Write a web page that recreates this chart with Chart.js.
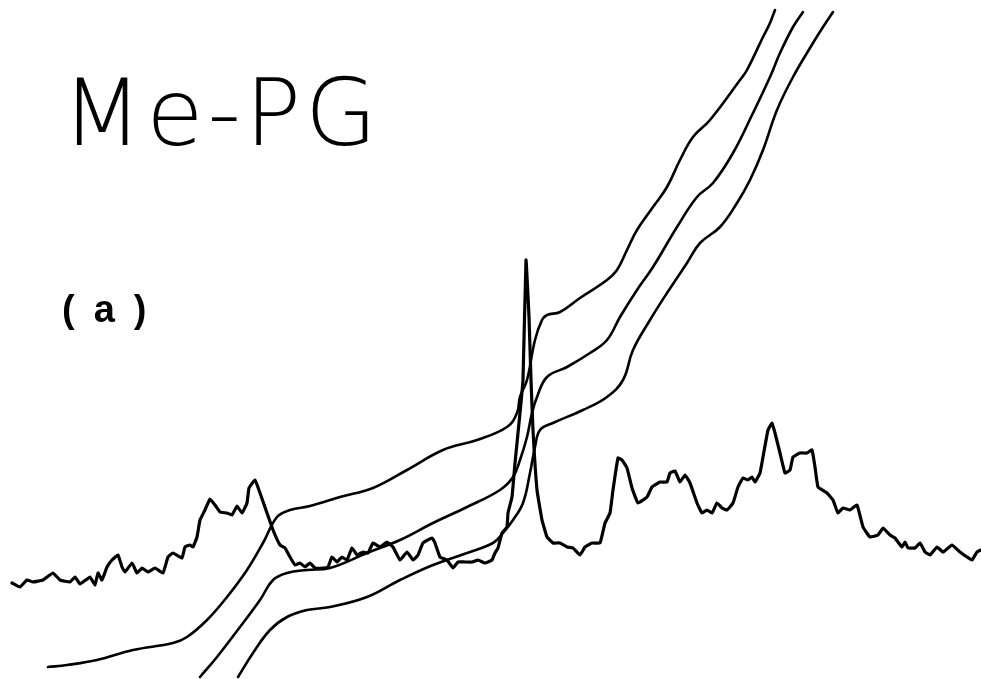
<!DOCTYPE html>
<html>
<head>
<meta charset="utf-8">
<script src="https://cdn.jsdelivr.net/npm/chart.js@4.4.1/dist/chart.umd.min.js"></script>
<style>
  html, body { margin: 0; padding: 0; background: #fff; }
  #wrap { width: 981px; height: 679px; }
</style>
</head>
<body>
<div id="wrap"><canvas id="c" width="981" height="679"></canvas></div>
<script>
// Recorded trace: position along the sweep (0-981) and pen height (0-679, up = larger)
const spectrumX = [12,20,27,33,43,53,60,70,75,80,90,95,98,102,107,112,118,122,125,132,137,142,148,155,163,168,173,182,185,190,193,197,200,205,210,215,220,227,232,237,242,247,249,255,260,267,273,280,285,290,295,300,305,310,315,323,328,
  332,337,342,347,352,357,363,368,373,380,387,393,400,407,413,418,423,432,435,440,447,453,458,465,472,478,485,492,495,498,502,507,508,512,515,520,523,526,529,531,533,537,542,547,553,560,567,573,580,585,592,600,605,610,
  613,618,622,627,632,638,647,652,660,667,670,675,680,685,690,697,702,707,712,717,722,727,733,738,743,748,752,755,760,763,768,772,775,780,785,790,793,800,807,812,815,818,827,833,838,843,850,857,863,870,878,883,890,895,902,905,908,915,920,925,930,937,943,952,960,967,972,977,981];
const spectrumY = [96,92,99,97,99,106,99,97,102,95,102,94,106,99,112,119,124,112,107,116,106,111,107,111,106,122,126,121,132,134,132,142,159,169,180,174,167,166,164,173,166,176,191,199,186,166,149,134,131,122,114,116,112,116,111,111,112,
  122,117,122,119,131,124,127,126,136,132,137,132,119,127,119,124,136,141,136,122,119,111,117,117,117,119,116,119,126,131,146,152,166,182,216,266,299,419,362,299,249,189,159,142,136,136,132,131,124,132,136,136,156,166,
  189,221,219,211,191,176,182,192,197,197,206,208,197,204,196,176,166,169,166,176,171,169,176,192,201,199,202,197,206,222,249,256,246,226,206,209,222,226,226,229,212,192,186,179,166,171,169,174,152,142,144,151,144,141,132,137,131,131,136,127,124,132,127,134,127,122,119,127,129];

// Three stepped integral traces
const integralAX = [48,67,97,133,173,187,207,227,247,263,277,290,310,340,373,407,443,477,507,517,520,527,535,542,547,560,580,607,617,627,637,653,667,680,693,710,740,747,763,770,775];
const integralAY = [12,14,19,29,36,42,59,82,109,136,162,169,173,182,191,209,229,239,252,266,282,299,339,359,364,367,381,399,409,429,449,472,492,519,542,559,599,609,642,656,669];

const integralBX = [200,217,240,260,273,287,307,330,367,400,433,467,500,513,520,527,532,537,547,567,590,607,620,637,653,677,697,713,733,753,770,780,793,803];
const integralBY = [2,22,52,79,99,106,109,111,126,139,156,172,189,202,219,242,266,282,302,312,326,339,362,389,412,452,482,496,526,566,602,626,652,667];

const integralCX = [238,253,270,287,307,330,367,400,433,467,493,503,513,523,530,535,540,553,583,607,623,633,650,667,687,700,720,737,750,763,777,793,813,823,833];
const integralCY = [2,26,49,62,69,72,82,99,114,126,136,146,159,176,206,232,249,256,269,282,299,329,359,386,416,436,452,476,499,529,569,602,636,652,667];

const toPoints = (xs, ys) => xs.map((x, i) => ({ x, y: ys[i] }));

const titleText = 'Me-PG';
const panelText = '(a)';

const labelsPlugin = {
  id: 'panelLabels',
  afterDraw(chart) {
    const ctx = chart.ctx;
    ctx.save();
    ctx.fillStyle = '#000';
    ctx.textBaseline = 'alphabetic';
    ctx.font = '200 93px "DejaVu Sans", sans-serif';
    ctx.letterSpacing = '4px';
    ctx.fillText(titleText, 62, 145);
    ctx.font = '700 38px "Liberation Sans", Arial, sans-serif';
    ctx.letterSpacing = '19px';
    ctx.fillText(panelText, 62, 322);
    ctx.restore();
  }
};

const lineStyle = (w, t) => ({
  borderColor: '#000',
  borderWidth: w,
  pointRadius: 0,
  fill: false,
  tension: t,
  borderJoinStyle: 'round',
  borderCapStyle: 'round'
});

new Chart(document.getElementById('c'), {
  type: 'line',
  data: {
    datasets: [
      Object.assign({ label: 'spectrum', data: toPoints(spectrumX, spectrumY) }, lineStyle(3.2, 0.1)),
      Object.assign({ label: 'integral 1', data: toPoints(integralAX, integralAY) }, lineStyle(2.6, 0.4)),
      Object.assign({ label: 'integral 2', data: toPoints(integralBX, integralBY) }, lineStyle(2.6, 0.4)),
      Object.assign({ label: 'integral 3', data: toPoints(integralCX, integralCY) }, lineStyle(2.6, 0.4))
    ]
  },
  options: {
    responsive: false,
    animation: false,
    layout: { padding: 0 },
    plugins: { legend: { display: false }, tooltip: { enabled: false }, title: { display: false } },
    scales: {
      x: { type: 'linear', min: 0, max: 981, display: false },
      y: { type: 'linear', min: 0, max: 679, display: false }
    }
  },
  plugins: [labelsPlugin]
});
</script>
</body>
</html>
